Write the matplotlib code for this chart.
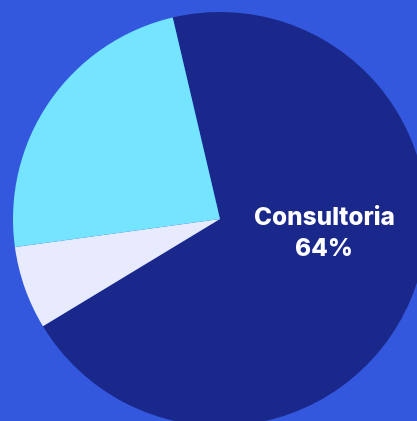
import matplotlib
matplotlib.use("Agg")
import matplotlib.pyplot as plt

categories = ["Consultoria", "Otros", "Formación"]
values = [70.0, 6.5, 23.5]
label_text = "Consultoria\n64%"
colors = ["#19288a", "#e8ebfd", "#74e4ff"]
bg = "#3358de"

fig = plt.figure(figsize=(4.17, 4.21), dpi=100)
fig.patch.set_facecolor(bg)
ax = fig.add_axes([0, 0, 1, 1])
ax.set_facecolor(bg)
ax.pie(values, colors=colors, startangle=103.2, counterclock=False,
       center=(220, 202), radius=207, frame=True,
       wedgeprops=dict(linewidth=0))
ax.set_xlim(0, 417)
ax.set_ylim(0, 421)
ax.set_aspect("equal")
ax.axis("off")
ax.text(324, 421 - 234, label_text, color="white", ha="center", va="center",
        fontsize=17.5, fontweight="heavy", family="Inter", linespacing=1.42)
fig.savefig("out.png", dpi=100, facecolor=bg)
